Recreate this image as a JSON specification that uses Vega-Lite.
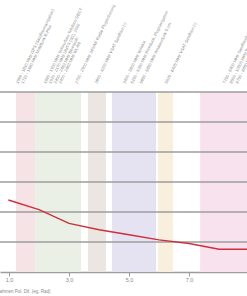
{
  "$schema": "https://vega.github.io/schema/vega-lite/v6.json",
  "width": 247,
  "height": 272,
  "autosize": {"type": "none"},
  "padding": {"left": 0, "top": 0, "right": 0, "bottom": 24},
  "background": "white",
  "config": {"view": {"stroke": null}, "font": "Liberation Sans", "axis": {"labelOverlap": false}, "axisX": {"labelOverlap": false}},
  "datasets": {
    "bands": [
      {"band": "a", "start": 1.23, "end": 1.87},
      {"band": "b", "start": 1.87, "end": 3.4},
      {"band": "c", "start": 3.63, "end": 4.23},
      {"band": "d", "start": 4.43, "end": 5.9},
      {"band": "e", "start": 5.97, "end": 6.47},
      {"band": "f", "start": 7.37, "end": 8.93}
    ],
    "grid": [{"g": 1}, {"g": 2}, {"g": 3}, {"g": 4}, {"g": 5}, {"g": 6}],
    "series": [
      {"f": 0.98, "v": 2.4},
      {"f": 2.0, "v": 2.08},
      {"f": 3.0, "v": 1.62},
      {"f": 4.0, "v": 1.41},
      {"f": 5.0, "v": 1.24},
      {"f": 6.0, "v": 1.07},
      {"f": 7.0, "v": 0.95},
      {"f": 8.0, "v": 0.76},
      {"f": 8.93, "v": 0.76}
    ],
    "labels": [
      {"f": 1.31, "t": "1559 - 1610 MHz GPS (Satellitennavigation)"},
      {"f": 1.48, "t": "1710 - 1880 MHz Mobilfunk E-Plus"},
      {"f": 2.23, "t": "1880 - 1900 MHz Schnurlose Telefone DECT"},
      {"f": 2.4, "t": "1920 - 2170 MHz UMTS (3G), 2000"},
      {"f": 2.57, "t": "2400 - 2483 MHz Bluetooth"},
      {"f": 2.73, "t": "2400 - 2483 MHz WLAN"},
      {"f": 3.27, "t": "2700 - 2900 MHz 340/AR Radar Flugsicherung"},
      {"f": 3.93, "t": "3600 - 4200 MHz VSAT Satelliten (-)"},
      {"f": 4.87, "t": "3400 - 3600 MHz WiMAX"},
      {"f": 5.13, "t": "5150 - 5350 MHz Richtfunk, Flugnavigation"},
      {"f": 5.43, "t": "5650 - 5850 MHz Amateurfunk 5 cm"},
      {"f": 6.27, "t": "5925 - 6425 MHz VSAT Satelliten (-)"},
      {"f": 8.2, "t": "7250 - 8400 MHz Satellitenfunk"},
      {"f": 8.43, "t": "8500 - 10500 MHz Radar"},
      {"f": 8.63, "t": "8750 - 8850 MHz Richtfunk"}
    ]
  },
  "layer": [
    {
      "data": {"name": "bands"},
      "mark": {"type": "rect"},
      "encoding": {
        "x": {
          "field": "start", "type": "quantitative", "title": "Aufnahmen Pol. Dif. (eg. Rad)",
          "scale": {"domain": [0.7, 8.93], "nice": false, "zero": false},
          "axis": {
            "values": [1, 1.5, 2, 2.5, 3, 3.5, 4, 4.5, 5, 5.5, 6, 6.5, 7, 7.5, 8, 8.5],
            "labelExpr": "datum.value % 1 === 0 ? replace(format(datum.value, '.1f'), '.', ',') : ''",
            "labelOverlap": false, "labelFlush": false, "labelBound": false,
            "domainColor": "#9d9d9d", "domainWidth": 1.3,
            "tickColor": "#9d9d9d", "tickSize": 4, "tickWidth": 1,
            "labelFontSize": 5.5, "labelColor": "#8a8a8a", "labelPadding": 1.5,
            "grid": false,
            "titleFontSize": 4.5, "titleFontWeight": "normal", "titleColor": "#8a8a8a",
            "titleAlign": "right", "titleX": 50, "titleY": 19, "titleBaseline": "middle"
          }
        },
        "x2": {"field": "end"},
        "y": {"datum": 0, "type": "quantitative", "scale": {"domain": [0, 9.067], "nice": false, "zero": false}, "axis": null},
        "y2": {"datum": 6},
        "color": {
          "field": "band", "type": "nominal", "legend": null,
          "scale": {"domain": ["a", "b", "c", "d", "e", "f"], "range": ["#f6e3e5", "#eaf0e6", "#ebe6e2", "#e5e3f1", "#f8efdd", "#f8e2ed"]}
        }
      }
    },
    {
      "data": {"name": "grid"},
      "mark": {"type": "rule", "color": "#9d9d9d", "strokeWidth": 1.3},
      "encoding": {
        "y": {"field": "g", "type": "quantitative", "axis": null}
      }
    },
    {
      "data": {"name": "series"},
      "mark": {"type": "line", "color": "#cf2e3c", "strokeWidth": 1.4},
      "encoding": {
        "x": {"field": "f", "type": "quantitative"},
        "y": {"field": "v", "type": "quantitative", "axis": null}
      }
    },
    {
      "data": {"name": "labels"},
      "mark": {"type": "text", "angle": 296, "align": "left", "baseline": "alphabetic", "fontSize": 4.2, "color": "#8a8a8a"},
      "encoding": {
        "x": {"field": "f", "type": "quantitative"},
        "y": {"datum": 6.27, "type": "quantitative"},
        "text": {"field": "t"}
      }
    }
  ]
}
